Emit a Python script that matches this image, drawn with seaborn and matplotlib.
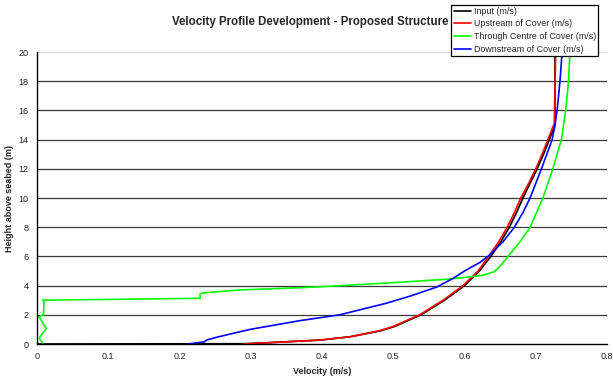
import matplotlib
matplotlib.use("Agg")
import matplotlib.pyplot as plt
import seaborn as sns
import pandas as pd

# Velocity profiles (velocity in m/s, height above seabed in m)
input_h = [0.0, 0.02, 0.1, 0.27, 0.5, 0.9, 1.2, 2.0, 3.0, 4.0, 5.0, 6.0, 7.0, 8.0, 9.0, 10.0, 11.0, 12.0, 13.0, 14.0, 15.0, 20.0]
input_v = [0.0, 0.29, 0.33, 0.398, 0.44, 0.482, 0.502, 0.539, 0.572, 0.600, 0.621, 0.637, 0.651, 0.663, 0.673, 0.682, 0.692, 0.702, 0.711, 0.719, 0.727, 0.727]

up_h = [0.0, 0.1, 0.27, 0.5, 0.9, 1.2, 2.0, 3.0, 4.0, 5.0, 6.0, 7.0, 8.0, 9.0, 10.0, 11.0, 12.0, 13.0, 14.0, 15.1, 20.0]
up_v = [0.289, 0.33, 0.397, 0.44, 0.48, 0.50, 0.537, 0.570, 0.598, 0.619, 0.634, 0.648, 0.660, 0.670, 0.679, 0.690, 0.700, 0.709, 0.717, 0.726, 0.728]

cen_h = [0.05, 0.4, 1.07, 1.7, 1.87, 2.0, 2.9, 3.0, 3.13, 3.47, 3.55, 3.7, 3.9, 4.2, 4.45, 4.7, 4.95, 5.5, 6.0, 7.0, 8.0, 10.0, 12.0, 14.0, 16.0, 18.0, 20.0]
cen_v = [0.008, 0.003, 0.013, 0.005, 0.003, 0.009, 0.010, 0.008, 0.229, 0.229, 0.245, 0.285, 0.39, 0.50, 0.580, 0.625, 0.642, 0.653, 0.661, 0.678, 0.692, 0.710, 0.724, 0.736, 0.742, 0.746, 0.748]

down_h = [0.0, 0.15, 0.27, 0.46, 0.84, 1.0, 1.6, 2.0, 2.8, 3.3, 3.9, 4.5, 5.0, 5.6, 6.0, 7.0, 8.0, 9.0, 10.0, 11.0, 12.0, 14.0, 15.0, 16.0, 18.0, 20.0]
down_v = [0.212, 0.235, 0.238, 0.252, 0.285, 0.299, 0.369, 0.425, 0.491, 0.525, 0.561, 0.584, 0.600, 0.622, 0.633, 0.654, 0.670, 0.682, 0.692, 0.700, 0.708, 0.723, 0.727, 0.730, 0.734, 0.737]

series = ["Input (m/s)", "Upstream of Cover (m/s)", "Through Centre of Cover (m/s)", "Downstream of Cover (m/s)"]
colors = ["#000000", "#ff0000", "#00ff00", "#0000ff"]

frames = []
for name, h, v in zip(series, [input_h, up_h, cen_h, down_h], [input_v, up_v, cen_v, down_v]):
    frames.append(pd.DataFrame({"Velocity": v, "Height": h, "Series": name}))
df = pd.concat(frames, ignore_index=True)

sns.set_style("white")
plt.rcParams["font.family"] = ["Liberation Sans", "DejaVu Sans"]

fig = plt.figure(figsize=(6.13, 3.81), dpi=100)
ax = fig.add_axes([37 / 613, 1 - 344 / 381, 570 / 613, 292 / 381])

sns.lineplot(data=df, x="Velocity", y="Height", hue="Series", hue_order=series,
             palette=colors, sort=False, estimator=None, linewidth=1.2, ax=ax)

ax.set_xlim(0, 0.8)
ax.set_ylim(0, 20)
ax.set_xticks([i / 10 for i in range(9)])
ax.set_xticklabels(["0", "0.1", "0.2", "0.3", "0.4", "0.5", "0.6", "0.7", "0.8"])
ax.set_yticks(range(0, 21, 2))

for yv in range(2, 20, 2):
    ax.axhline(yv, color="#3a3a3a", linewidth=0.9, zorder=0)
ax.axhline(20, color="#d8d8d8", linewidth=0.9, zorder=0)

for side in ["top", "right"]:
    ax.spines[side].set_visible(False)
for side in ["left", "bottom"]:
    ax.spines[side].set_color("black")
    ax.spines[side].set_linewidth(1.0)

ax.tick_params(axis="both", which="major", direction="out", length=3, width=0.8,
               labelsize=6.5, colors="black", pad=3)
ax.tick_params(axis="both", labelcolor="#222222")

ax.set_xlabel("Velocity (m/s)", fontsize=6.5, fontweight="bold", labelpad=4)
ax.set_ylabel("Height above seabed (m)", fontsize=6.5, fontweight="bold", labelpad=3)

fig.text(0.506, 1 - 22 / 381, "Velocity Profile Development - Proposed Structure",
         ha="center", va="center", fontsize=8.3, fontweight="bold")

handles, labels = ax.get_legend_handles_labels()
ax.legend(handles, labels, loc="upper right", bbox_to_anchor=(598 / 613, 1 - 4.5 / 381),
          bbox_transform=fig.transFigure, fontsize=6.4, frameon=True, fancybox=False,
          edgecolor="black", framealpha=1, handlelength=2.0, handletextpad=0.25,
          labelspacing=0.42, borderpad=0.25, borderaxespad=0)
ax.get_legend().get_frame().set_linewidth(0.9)

fig.savefig("out.png", dpi=100)
